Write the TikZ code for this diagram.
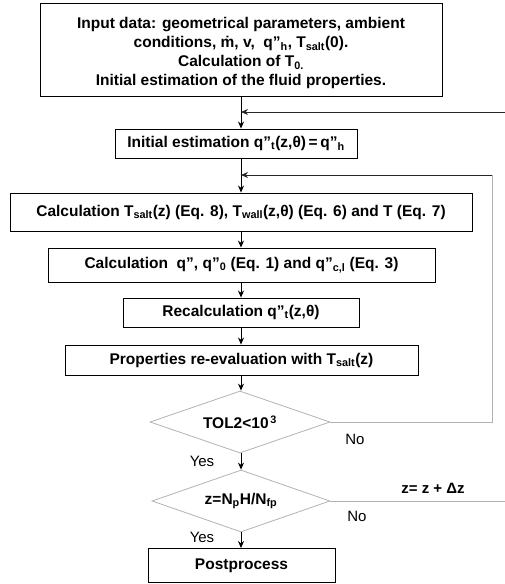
\documentclass[tikz,border=0pt]{standalone}
\usepackage{fontspec}
\setmainfont{Liberation Sans}
\usetikzlibrary{shapes.geometric,arrows.meta}
\begin{document}
\begin{tikzpicture}[x=1pt,y=-1pt,
  box/.style={draw=black, line width=0.9pt, inner sep=0pt, align=center,
    font=\bfseries\fontsize{15.5}{19.2}\selectfont},
  dec/.style={draw=gray!60, line width=0.8pt, shape=diamond, aspect=2.9, inner sep=0pt, align=center,
    font=\bfseries\fontsize{15.5}{19.2}\selectfont},
  arr/.style={-{Stealth[length=7pt,width=6pt]}, line width=0.9pt},
  fb/.style={draw=gray!60, line width=0.8pt},
  lab/.style={font=\fontsize{15}{17}\selectfont, inner sep=0pt},
  labb/.style={font=\bfseries\fontsize{15}{17}\selectfont, inner sep=0pt}
]
\useasboundingbox (0,0) rectangle (504,584);

\node[box, minimum width=402pt, minimum height=93pt] (b1) at (241,49.5)
  {\rule{0pt}{18pt}Input data: geometrical parameters, ambient\\
   conditions, \.m, v,\ \ q''\textsubscript{h}, T\textsubscript{salt}(0).\\
   Calculation of T\textsubscript{0.}\\
   Initial estimation of the fluid properties.};
\node[box, minimum width=242pt, minimum height=29pt] (b2) at (236,143.5)
  {Initial estimation q''\textsubscript{t}(z,θ)\,=\,q''\textsubscript{h}};
\node[box, minimum width=462pt, minimum height=38pt] (b3) at (241,212)
  {Calculation T\textsubscript{salt}(z) (Eq. 8), T\textsubscript{wall}(z,θ) (Eq. 6) and T (Eq. 7)};
\node[box, minimum width=387pt, minimum height=34pt] (b4) at (241.5,265)
  {Calculation\ \ q'', q''\textsubscript{0} (Eq. 1) and q''\textsubscript{c,l} (Eq. 3)};
\node[box, minimum width=236pt, minimum height=29pt] (b5) at (241,312.5)
  {Recalculation q''\textsubscript{t}(z,θ)};
\node[box, minimum width=353pt, minimum height=30pt] (b6) at (241.5,360)
  {Properties re-evaluation with T\textsubscript{salt}(z)};
\node[dec, minimum width=180pt, minimum height=62pt] (d1) at (240,422)
  {TOL2<10\textsuperscript{\,3}};
\node[dec, minimum width=178pt, minimum height=62pt] (d2) at (241,501)
  {z=N\textsubscript{p}H/N\textsubscript{fp}};
\node[box, minimum width=187pt, minimum height=34pt] (b7) at (241.5,565.5)
  {Postprocess};

\node[lab] (no1) at (355,439) {No};
\node[lab] (yes1) at (202,461) {Yes};
\node[labb] (inc) at (433,488) {z= z + Δz};
\node[lab] (no2) at (357,516) {No};
\node[lab] (yes2) at (202,537) {Yes};

% main flow
\draw[arr] (b1.south -| 241,0) -- (b2.north -| 241,0);
\draw[arr] (b2.south -| 241,0) -- (b3.north);
\draw[arr] (b3.south) -- (b4.north -| b3.south);
\draw[arr] (b4.south -| 241,0) -- (b5.north -| 241,0);
\draw[arr] (b5.south -| 241,0) -- (b6.north -| 241,0);
\draw[arr] (b6.south -| 241,0) -- (d1.north -| 241,0);
\draw[arr] (d1.south -| 241,0) -- (d2.north);
\draw[arr] (d2.south) -- (b7.north -| d2.south);

% feedback loops
\coordinate (t1) at (241,112);
\coordinate (t2) at (241,175);
\coordinate (r1) at (492,175);
\coordinate (r1b) at (492,422);
\coordinate (r2) at (508,112);
\coordinate (r2b) at (508,501);
\draw[fb] (d1.east) -- (r1b) -- (r1);
\draw[arr, draw=black!85] (r1) -- (t2);
\draw[fb] (d2.east) -- (r2b) -- (r2);
\draw[arr, draw=black!85] (r2) -- (t1);
\end{tikzpicture}
\end{document}
